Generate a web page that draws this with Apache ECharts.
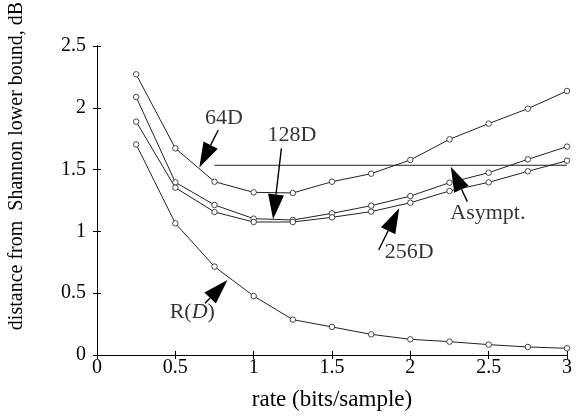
<!DOCTYPE html>
<html>
<head>
<meta charset="utf-8">
<script src="https://cdn.jsdelivr.net/npm/echarts@6/dist/echarts.min.js"></script>
<style>
  html, body { margin: 0; padding: 0; background: #fff; }
  #chart { width: 579px; height: 416px; }
</style>
</head>
<body>
<div id="chart"></div>
<script>
// rate (bits/sample)
const rates = [0.25, 0.5, 0.75, 1, 1.25, 1.5, 1.75, 2, 2.25, 2.5, 2.75, 3];
// distance from Shannon lower bound, dB
const d64 = [2.271, 1.672, 1.402, 1.316, 1.311, 1.402, 1.467, 1.578, 1.745, 1.872, 1.993, 2.136];
const d128 = [2.087, 1.397, 1.214, 1.103, 1.092, 1.146, 1.208, 1.286, 1.394, 1.475, 1.583, 1.686];
const d256 = [1.888, 1.354, 1.157, 1.076, 1.076, 1.114, 1.160, 1.232, 1.327, 1.397, 1.486, 1.572];
const dRD = [1.704, 1.065, 0.715, 0.477, 0.286, 0.227, 0.167, 0.127, 0.108, 0.084, 0.065, 0.054];
const asymptValue = 1.535;
const asymptRange = [0.75, 3];

const xTicks = [0, 0.5, 1, 1.5, 2, 2.5, 3];
const yTicks = [0, 0.5, 1, 1.5, 2, 2.5];

// annotation arrows: [tailX, tailY, tipX, tipY]
const arrows = [
  [0.774, 1.820, 0.653, 1.518],
  [1.177, 1.672, 1.124, 1.098],
  [2.364, 1.241, 2.258, 1.524],
  [1.798, 0.850, 1.929, 1.187],
  [0.689, 0.418, 0.833, 0.607]
];
// annotation labels: [x, y, text]
const notes = [
  [0.810, 1.915, '64D'],
  [1.244, 1.780, '128D'],
  [2.495, 1.146, 'Asympt.'],
  [1.993, 0.831, '256D'],
  [0.608, 0.343, '{n|R(}{i|D}{n|)}']
];

const font = 'Liberation Serif';
const ink = '#000';

const chart = echarts.init(document.getElementById('chart'));

function curve(values) {
  return {
    type: 'line',
    data: rates.map((r, i) => [r, values[i]]),
    symbol: 'circle',
    symbolSize: 5.5,
    showSymbol: true,
    lineStyle: { color: '#222', width: 1 },
    itemStyle: { color: '#fff', borderColor: '#333', borderWidth: 0.9 },
    silent: true,
    z: 3
  };
}

const baseAxis = {
  type: 'value',
  axisLine: { show: true, lineStyle: { color: ink, width: 1 } },
  axisTick: { show: true, inside: true, length: 4, lineStyle: { color: ink } },
  splitLine: { show: false }
};

chart.setOption({
  animation: false,
  backgroundColor: '#fff',
  grid: { left: 97, right: 12, top: 46, bottom: 60 },
  xAxis: [
    Object.assign({}, baseAxis, {
      min: 0, max: 3, interval: 0.5,
      name: 'rate (bits/sample)',
      nameLocation: 'middle',
      nameGap: 33,
      nameTextStyle: { fontFamily: font, fontSize: 23, color: ink },
      axisLabel: {
        margin: 3, fontFamily: font, fontSize: 20, color: ink,
        formatter: v => xTicks.indexOf(v) >= 0 ? String(v) : ''
      }
    }),
    Object.assign({}, baseAxis, {
      min: 0, max: 3, interval: 0.5, position: 'top',
      axisLabel: { show: false }
    })
  ],
  yAxis: [
    Object.assign({}, baseAxis, {
      min: 0, max: 2.5, interval: 0.5,
      axisLabel: {
        margin: 11, fontFamily: font, fontSize: 20, color: ink,
        formatter: v => yTicks.indexOf(v) >= 0 ? String(v) : ''
      }
    }),
    Object.assign({}, baseAxis, {
      min: 0, max: 2.5, interval: 0.5, position: 'right',
      axisLabel: { show: false }
    })
  ],
  graphic: [{
    type: 'text',
    x: 17, y: 166,
    rotation: Math.PI / 2,
    style: {
      text: 'distance from  Shannon lower bound, dB',
      font: '20px "Liberation Serif"',
      fill: ink,
      align: 'center',
      verticalAlign: 'middle'
    }
  }],
  series: [
    curve(d64),
    curve(d128),
    curve(d256),
    curve(dRD),
    {
      type: 'line',
      data: asymptRange.map(r => [r, asymptValue]),
      symbol: 'none',
      lineStyle: { color: '#222', width: 1 },
      silent: true,
      z: 2
    },
    {
      type: 'custom',
      data: arrows,
      encode: { x: [0, 2], y: [1, 3] },
      silent: true,
      z: 4,
      renderItem: function (params, api) {
        const t = api.coord([api.value(0), api.value(1)]);
        const h = api.coord([api.value(2), api.value(3)]);
        const dx = h[0] - t[0], dy = h[1] - t[1];
        const len = Math.sqrt(dx * dx + dy * dy);
        const ux = dx / len, uy = dy / len;
        const L = 25, W = 8;
        const b = [h[0] - ux * L, h[1] - uy * L];
        const p1 = [b[0] - uy * W, b[1] + ux * W];
        const p2 = [b[0] + uy * W, b[1] - ux * W];
        return {
          type: 'group',
          children: [
            { type: 'line', shape: { x1: t[0], y1: t[1], x2: b[0], y2: b[1] },
              style: { stroke: ink, lineWidth: 1.4 } },
            { type: 'polygon', shape: { points: [h, p1, p2] },
              style: { fill: '#000' } }
          ]
        };
      }
    },
    {
      type: 'scatter',
      data: notes.map(n => ({ value: [n[0], n[1]], name: n[2] })),
      symbolSize: 0,
      silent: true,
      label: {
        show: true,
        position: 'inside',
        formatter: p => p.name,
        fontFamily: font,
        fontSize: 22,
        color: ink,
        rich: {
          n: { fontFamily: font, fontSize: 22, color: ink },
          i: { fontFamily: font, fontSize: 22, fontStyle: 'italic', color: ink }
        }
      }
    }
  ]
});
</script>
</body>
</html>
